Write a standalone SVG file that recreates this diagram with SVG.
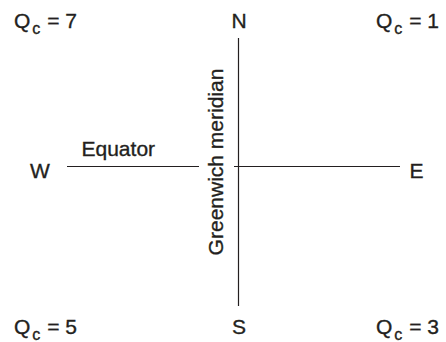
<svg xmlns="http://www.w3.org/2000/svg" width="446" height="342" viewBox="0 0 446 342">
<style>
text{font-family:"Liberation Sans",Arial,sans-serif;fill:#231f20;stroke:#231f20;stroke-width:0.35}
.big{font-size:21px}
.sub{font-size:16px}
.lab{font-size:21px}
.ln{stroke:#231f20;stroke-width:1.2;fill:none}
</style>
<rect width="446" height="342" fill="#fff"/>
<g id="connectors">
<line class="ln" x1="238.5" y1="38" x2="238.5" y2="306"/>
<line class="ln" x1="67" y1="166.5" x2="199" y2="166.5"/>
<line class="ln" x1="234" y1="166.5" x2="400" y2="166.5"/>
</g>
<g id="N"><text class="big" x="239" y="28" text-anchor="middle">N</text></g>
<g id="S"><text class="big" x="239" y="334" text-anchor="middle">S</text></g>
<g id="W"><text class="big" x="40" y="178" text-anchor="middle">W</text></g>
<g id="E"><text class="big" x="416.5" y="178" text-anchor="middle">E</text></g>
<g id="equator"><text class="lab" x="81.5" y="156">Equator</text></g>
<g id="meridian"><text class="lab" transform="translate(223,162) rotate(-90)" text-anchor="middle">Greenwich meridian</text></g>
<g id="q7"><text class="big" x="14" y="28">Q<tspan class="sub" dx="2" dy="6">c</tspan><tspan dx="1" dy="-6"> = 7</tspan></text></g>
<g id="q1"><text class="big" x="376" y="28">Q<tspan class="sub" dx="2" dy="6">c</tspan><tspan dx="1" dy="-6"> = 1</tspan></text></g>
<g id="q5"><text class="big" x="14" y="334">Q<tspan class="sub" dx="2" dy="6">c</tspan><tspan dx="1" dy="-6"> = 5</tspan></text></g>
<g id="q3"><text class="big" x="376" y="334">Q<tspan class="sub" dx="2" dy="6">c</tspan><tspan dx="1" dy="-6"> = 3</tspan></text></g>
</svg>
